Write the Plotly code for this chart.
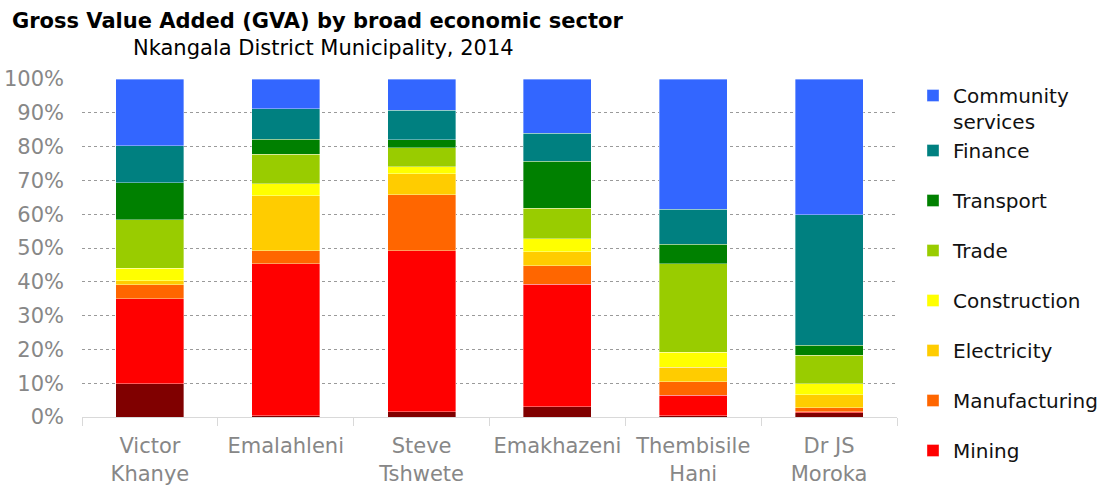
import plotly.graph_objects as go

# Local municipalities of Nkangala District
municipalities = ["Victor<br>Khanye", "Emalahleni", "Steve<br>Tshwete",
                  "Emakhazeni", "Thembisile<br>Hani", "Dr JS<br>Moroka"]

# Share of GVA per sector (%), same order as municipalities
agriculture = [9.8, 0.4, 1.5, 3.1, 0.4, 1.3]
mining = [25.2, 45.0, 47.7, 36.2, 6.0, 0.3]
manufacturing = [4.1, 3.8, 16.6, 5.4, 4.0, 1.2]
electricity = [1.2, 16.2, 6.1, 4.2, 4.3, 3.8]
construction = [3.7, 3.6, 2.1, 3.8, 4.4, 3.3]
trade = [14.3, 8.8, 5.7, 9.1, 26.2, 8.3]
transport = [11.0, 4.4, 2.3, 13.9, 5.8, 3.1]
finance = [10.9, 9.0, 8.7, 8.3, 10.3, 38.6]
community_services = [19.8, 8.8, 9.3, 16.0, 38.6, 40.1]

y_ticks = list(range(0, 101, 10))
y_tick_labels = [f"{v}%" for v in y_ticks]

FONT = "DejaVu Sans"

# (name, values, colour, legend group, legend rank, shown in legend)
sectors = [
    ("Agriculture", agriculture, "#800000", "g0", 9, False),
    ("Mining", mining, "#FF0000", "g1", 8, True),
    ("Manufacturing", manufacturing, "#FF6600", "g2", 7, True),
    ("Electricity", electricity, "#FFCC00", "g3", 6, True),
    ("Construction", construction, "#FFFF00", "g4", 5, True),
    ("Trade", trade, "#99CC00", "g5", 4, True),
    ("Transport", transport, "#008000", "g6", 3, True),
    ("Finance", finance, "#008080", "g7", 2, True),
    ("Community<br>services", community_services, "#3366FF", "g7", 1, True),
]

fig = go.Figure()
for name, vals, colour, grp, rank, show in sectors:
    fig.add_trace(go.Bar(
        x=municipalities, y=vals, name=name,
        marker=dict(color=colour, line=dict(color="rgba(255,255,255,0.45)", width=0.8)),
        legendgroup=grp, legendrank=rank, showlegend=show,
    ))

L, R, T, B = 82, 213, 79, 68
W, H = 1110, 485
pw, ph = W - L - R, H - T - B

def px_x(x):
    return (x - L) / pw

def px_y(y):
    return (H - B - y) / ph

fig.update_layout(
    width=W, height=H,
    margin=dict(l=L, r=R, t=T, b=B, autoexpand=False),
    paper_bgcolor="white", plot_bgcolor="white",
    barmode="stack", bargap=0.5,
    font=dict(family=FONT, size=21, color="#878787"),
    legend=dict(
        x=px_x(913), xanchor="left",
        yref="container", y=1 - 76 / H, yanchor="top",
        maxheight=1.0,
        traceorder="grouped",
        tracegroupgap=21,
        valign="top",
        itemwidth=30,
        font=dict(family=FONT, size=20, color="#111111"),
        bgcolor="rgba(0,0,0,0)",
    ),
    xaxis=dict(
        showgrid=False, showline=True, linecolor="#d9d9d9", linewidth=1,
        ticks="outside", tickson="boundaries", ticklen=8, tickcolor="#d9d9d9",
        tickangle=0, automargin=False, ticklabelstandoff=10,
        tickfont=dict(family=FONT, size=21, color="#878787"),
    ),
    yaxis=dict(
        range=[0, 100], tickvals=y_ticks, ticktext=y_tick_labels,
        showgrid=True, gridcolor="#9a9a9a", griddash="dot", gridwidth=1,
        zeroline=False, showline=False, ticks="",
        ticklabelstandoff=17, automargin=False,
        tickfont=dict(family=FONT, size=21, color="#878787"),
    ),
    annotations=[
        dict(text="<b>Gross Value Added (GVA) by broad economic sector</b>",
             xref="paper", yref="paper", x=px_x(10), y=px_y(21),
             xanchor="left", yanchor="middle", showarrow=False,
             font=dict(family=FONT, size=21, color="#000000")),
        dict(text="Nkangala District Municipality, 2014",
             xref="paper", yref="paper", x=px_x(131), y=px_y(48),
             xanchor="left", yanchor="middle", showarrow=False,
             font=dict(family=FONT, size=21, color="#000000")),
    ],
)

fig.write_html("out.html")
